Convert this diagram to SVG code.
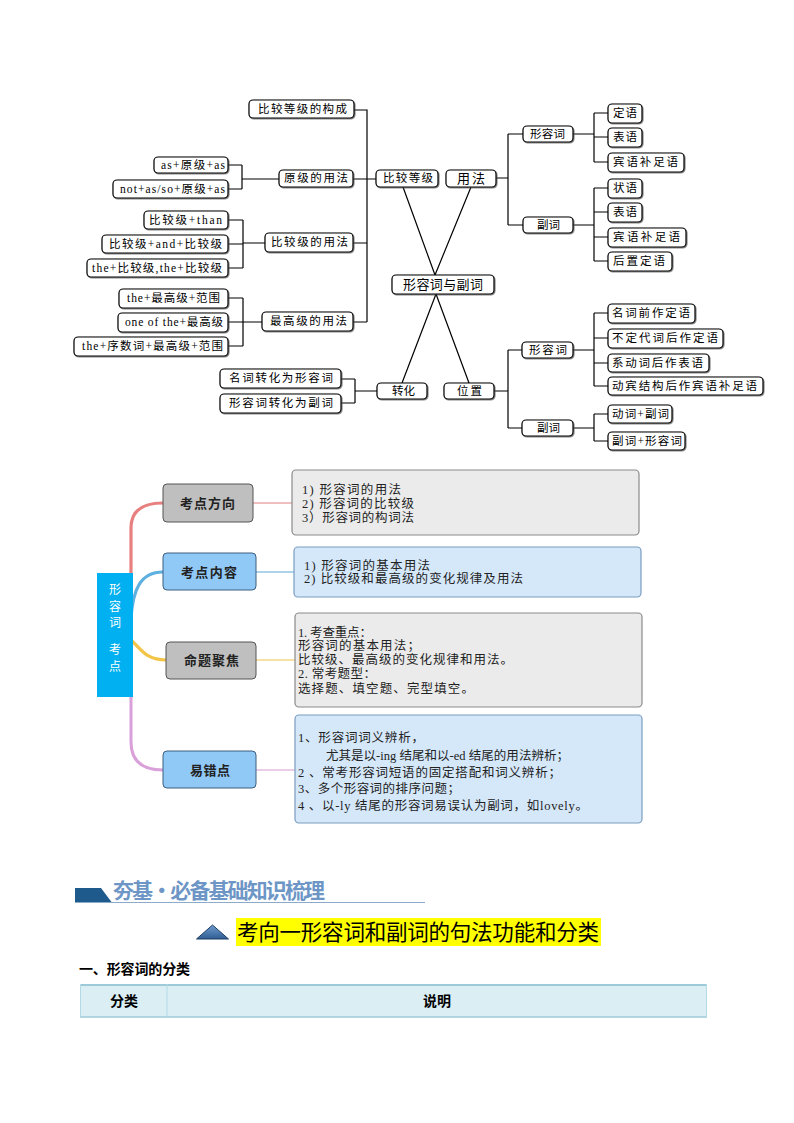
<svg xmlns="http://www.w3.org/2000/svg" width="794" height="1123" viewBox="0 0 794 1123">
<defs>
<style>
.bx{fill:#fff;stroke:#000;stroke-width:1.2;filter:url(#sh)}
.t{font-family:"Liberation Serif","Noto Sans CJK SC",serif;font-size:11.5px;fill:#000}
.tc{font-family:"Noto Sans CJK SC","Liberation Sans",sans-serif;font-size:13px;fill:#000}
.ln{stroke:#000;stroke-width:1.2;fill:none}
.g1{fill:#BFBFBF;stroke:#555;stroke-width:1}
.b1{fill:#90C8F6;stroke:#3D5F80;stroke-width:1}
.d1{fill:#EBEBEB;stroke:#8A8A8A;stroke-width:1.2}
.d2{fill:#D5E8FA;stroke:#7A9CC0;stroke-width:1.2}
.bl{font-family:"Noto Sans CJK SC","Liberation Sans",sans-serif;font-size:13px;font-weight:bold;fill:#222}
.dt{font-family:"Liberation Serif","Noto Sans CJK SC",serif;font-size:12.5px;fill:#222}
.cv{fill:none;stroke-linecap:round}
</style>
<filter id="sh" x="-10%" y="-20%" width="130%" height="160%">
<feDropShadow dx="0.8" dy="0.8" stdDeviation="0.3" flood-color="#444" flood-opacity="0.8"/>
</filter>
<linearGradient id="tri" x1="0" y1="0" x2="0" y2="1">
<stop offset="0" stop-color="#6F9BD0"/>
<stop offset="1" stop-color="#2F5C92"/>
</linearGradient>
</defs>

<g id="connectors">
<path class="ln" d="M354,110H367V322M353,179H376M353,243H367M353,322H367"/>
<path class="ln" d="M228,165H242M228,189H242M242,165V189M242,179H279"/>
<path class="ln" d="M228,220H243M228,244H243M228,268H243M243,220V268M243,243H265"/>
<path class="ln" d="M228,298H243M228,322H243M228,346H243M243,298V346M243,322H262"/>
<path class="ln" d="M341,379H355M341,403H355M355,379V403M355,391H377"/>
<path class="ln" d="M496,178H508M508,134V225M508,134H523M508,225H523"/>
<path class="ln" d="M573,134H594M594,113V162M594,113H608M594,137H608M594,162H608"/>
<path class="ln" d="M573,225H594M594,188V261M594,188H608M594,212H608M594,237H608M594,261H608"/>
<path class="ln" d="M403,187L435,275L471,187M436,294L402,383M436,294L469,383"/>
<path class="ln" d="M494,391H508M508,350V428M508,350H522M508,428H522"/>
<path class="ln" d="M573,350H594M594,313V386M594,313H608M594,338H608M594,363H608M594,386H608"/>
<path class="ln" d="M573,428H594M594,414V441M594,414H608M594,441H608"/>
<path class="cv" stroke="#E88080" stroke-width="3.2" d="M131,585V528Q131,503 163,503"/>
<path class="cv" stroke="#5DB0E0" stroke-width="3.2" d="M131,618C133,590 140,572 163,572"/>
<path class="cv" stroke="#F2C447" stroke-width="3.2" d="M131,640C142,650 146,660 166,660"/>
<path class="cv" stroke="#D9A0D9" stroke-width="3" d="M131,682V742Q131,770 163,770"/>
<path d="M253,503H292" stroke="#E08080" stroke-width="1"/>
<path d="M256,572H294" stroke="#5BA8D6" stroke-width="1"/>
<path d="M256,660H295" stroke="#EFC24A" stroke-width="1"/>
<path d="M256,770H295" stroke="#D59AD0" stroke-width="1"/>
</g>

<g id="n-gouc"><rect class="bx" x="249" y="100" width="105" height="18" rx="4"/><text class="t" x="258" y="113" textLength="89" lengthAdjust="spacing">比较等级的构成</text></g>
<g id="n-as"><rect class="bx" x="154" y="157" width="74" height="16" rx="4"/><text class="t" x="161" y="169" textLength="64" lengthAdjust="spacing">as+原级+as</text></g>
<g id="n-notas"><rect class="bx" x="113" y="180" width="115" height="18" rx="4"/><text class="t" x="120" y="193" textLength="105" lengthAdjust="spacing">not+as/so+原级+as</text></g>
<g id="n-yuanji"><rect class="bx" x="279" y="170" width="74" height="17" rx="4"/><text class="t" x="284" y="182" textLength="64" lengthAdjust="spacing">原级的用法</text></g>
<g id="n-bjdj"><rect class="bx" x="376" y="170" width="62" height="17" rx="4"/><text class="t" x="383" y="182" textLength="50" lengthAdjust="spacing">比较等级</text></g>
<g id="n-yongfa"><rect class="bx" x="446" y="170" width="50" height="17" rx="4"/><text class="tc" x="457" y="183" textLength="28" lengthAdjust="spacing">用法</text></g>
<g id="n-than"><rect class="bx" x="144" y="211" width="84" height="18" rx="4"/><text class="t" x="149" y="224" textLength="73" lengthAdjust="spacing">比较级+than</text></g>
<g id="n-and"><rect class="bx" x="102" y="235" width="126" height="18" rx="4"/><text class="t" x="109" y="248" textLength="113" lengthAdjust="spacing">比较级+and+比较级</text></g>
<g id="n-thethe"><rect class="bx" x="87" y="259" width="141" height="18" rx="4"/><text class="t" x="92" y="272" textLength="130" lengthAdjust="spacing">the+比较级,the+比较级</text></g>
<g id="n-bjj"><rect class="bx" x="265" y="233" width="88" height="19" rx="4"/><text class="t" x="271" y="246" textLength="77" lengthAdjust="spacing">比较级的用法</text></g>
<g id="n-zg1"><rect class="bx" x="119" y="289" width="109" height="19" rx="4"/><text class="t" x="127" y="302" textLength="93" lengthAdjust="spacing">the+最高级+范围</text></g>
<g id="n-zg2"><rect class="bx" x="118" y="313" width="110" height="19" rx="4"/><text class="t" x="125" y="326" textLength="98" lengthAdjust="spacing">one of the+最高级</text></g>
<g id="n-zg3"><rect class="bx" x="74" y="337" width="154" height="19" rx="4"/><text class="t" x="82" y="350" textLength="141" lengthAdjust="spacing">the+序数词+最高级+范围</text></g>
<g id="n-zgj"><rect class="bx" x="262" y="312" width="91" height="19" rx="4"/><text class="t" x="270" y="325" textLength="77" lengthAdjust="spacing">最高级的用法</text></g>
<g id="n-mc"><rect class="bx" x="220" y="369" width="121" height="19" rx="4"/><text class="t" x="229" y="382" textLength="104" lengthAdjust="spacing">名词转化为形容词</text></g>
<g id="n-xr"><rect class="bx" x="220" y="394" width="121" height="19" rx="4"/><text class="t" x="229" y="407" textLength="104" lengthAdjust="spacing">形容词转化为副词</text></g>
<g id="n-zhuanhua"><rect class="bx" x="377" y="383" width="50" height="16" rx="4"/><text class="t" x="392" y="395" textLength="23" lengthAdjust="spacing">转化</text></g>
<g id="n-weizhi"><rect class="bx" x="444" y="383" width="50" height="16" rx="4"/><text class="t" x="457" y="395" textLength="25" lengthAdjust="spacing">位置</text></g>
<g id="n-root"><rect class="bx" x="392" y="275" width="102" height="19" rx="4"/><text class="tc" x="403" y="289" textLength="80" lengthAdjust="spacing">形容词与副词</text></g>
<g id="n-xrc1"><rect class="bx" x="523" y="126" width="50" height="16" rx="4"/><text class="t" x="530" y="138" textLength="35" lengthAdjust="spacing">形容词</text></g>
<g id="n-fc1"><rect class="bx" x="523" y="217" width="50" height="16" rx="4"/><text class="t" x="537" y="229" textLength="23" lengthAdjust="spacing">副词</text></g>
<g id="n-dy"><rect class="bx" x="608" y="104" width="34" height="19" rx="4"/><text class="t" x="613" y="117" textLength="24" lengthAdjust="spacing">定语</text></g>
<g id="n-by1"><rect class="bx" x="608" y="128" width="34" height="19" rx="4"/><text class="t" x="613" y="141" textLength="24" lengthAdjust="spacing">表语</text></g>
<g id="n-bz1"><rect class="bx" x="608" y="153" width="76" height="19" rx="4"/><text class="t" x="613" y="166" textLength="65" lengthAdjust="spacing">宾语补足语</text></g>
<g id="n-zy"><rect class="bx" x="608" y="179" width="34" height="19" rx="4"/><text class="t" x="613" y="192" textLength="24" lengthAdjust="spacing">状语</text></g>
<g id="n-by2"><rect class="bx" x="608" y="203" width="34" height="19" rx="4"/><text class="t" x="613" y="216" textLength="24" lengthAdjust="spacing">表语</text></g>
<g id="n-bz2"><rect class="bx" x="608" y="228" width="78" height="19" rx="4"/><text class="t" x="613" y="241" textLength="67" lengthAdjust="spacing">宾语补足语</text></g>
<g id="n-hz"><rect class="bx" x="608" y="252" width="64" height="19" rx="4"/><text class="t" x="613" y="265" textLength="52" lengthAdjust="spacing">后置定语</text></g>
<g id="n-xrc2"><rect class="bx" x="522" y="342" width="51" height="16" rx="4"/><text class="t" x="529" y="354" textLength="38" lengthAdjust="spacing">形容词</text></g>
<g id="n-fc2"><rect class="bx" x="522" y="420" width="51" height="16" rx="4"/><text class="t" x="537" y="432" textLength="23" lengthAdjust="spacing">副词</text></g>
<g id="n-p1"><rect class="bx" x="608" y="304" width="87" height="19" rx="4"/><text class="t" x="612" y="317" textLength="78" lengthAdjust="spacing">名词前作定语</text></g>
<g id="n-p2"><rect class="bx" x="608" y="329" width="115" height="19" rx="4"/><text class="t" x="612" y="342" textLength="106" lengthAdjust="spacing">不定代词后作定语</text></g>
<g id="n-p3"><rect class="bx" x="608" y="354" width="101" height="18" rx="4"/><text class="t" x="612" y="367" textLength="91" lengthAdjust="spacing">系动词后作表语</text></g>
<g id="n-p4"><rect class="bx" x="608" y="377" width="155" height="18" rx="4"/><text class="t" x="612" y="390" textLength="145" lengthAdjust="spacing">动宾结构后作宾语补足语</text></g>
<g id="n-p5"><rect class="bx" x="608" y="405" width="64" height="18" rx="4"/><text class="t" x="612" y="418" textLength="57" lengthAdjust="spacing">动词+副词</text></g>
<g id="n-p6"><rect class="bx" x="608" y="432" width="77" height="18" rx="4"/><text class="t" x="612" y="445" textLength="70" lengthAdjust="spacing">副词+形容词</text></g>

<g id="m-center">
<rect x="97" y="573" width="36" height="124" fill="#00B0F0"/>
<g font-family="Noto Sans CJK SC,sans-serif" font-size="12" fill="#fff" text-anchor="middle">
<text x="115" y="594">形</text><text x="115" y="611">容</text><text x="115" y="627">词</text>
<text x="115" y="654">考</text><text x="115" y="671">点</text>
</g>
</g>
<g id="m-fx"><rect class="g1" x="163" y="484" width="90" height="38" rx="4"/><text class="bl" x="180" y="508" textLength="55" lengthAdjust="spacing">考点方向</text></g>
<g id="m-nr"><rect class="b1" x="163" y="553" width="93" height="37" rx="4"/><text class="bl" x="181" y="577" textLength="56" lengthAdjust="spacing">考点内容</text></g>
<g id="m-jj"><rect class="g1" x="166" y="642" width="90" height="37" rx="4"/><text class="bl" x="184" y="665" textLength="55" lengthAdjust="spacing">命题聚焦</text></g>
<g id="m-yc"><rect class="b1" x="163" y="751" width="93" height="37" rx="4"/><text class="bl" x="190" y="775" textLength="40" lengthAdjust="spacing">易错点</text></g>

<g id="m-d1"><rect class="d1" x="292" y="470" width="347" height="65" rx="4"/>
<text class="dt" x="302" y="494" textLength="99" lengthAdjust="spacing">1)  形容词的用法</text>
<text class="dt" x="302" y="508" textLength="112" lengthAdjust="spacing">2)  形容词的比较级</text>
<text class="dt" x="302" y="522" textLength="112" lengthAdjust="spacing">3）形容词的构词法</text></g>
<g id="m-d2"><rect class="d2" x="294" y="547" width="347" height="50" rx="4"/>
<text class="dt" x="304" y="570" textLength="126" lengthAdjust="spacing">1)  形容词的基本用法</text>
<text class="dt" x="304" y="583" textLength="219" lengthAdjust="spacing">2)  比较级和最高级的变化规律及用法</text></g>
<g id="m-d3"><rect class="d1" x="295" y="613" width="347" height="94" rx="4"/>
<text class="dt" x="298" y="637" textLength="74" lengthAdjust="spacing">1. 考查重点：</text>
<text class="dt" x="298" y="650" textLength="122" lengthAdjust="spacing">形容词的基本用法；</text>
<text class="dt" x="298" y="664" textLength="215" lengthAdjust="spacing">比较级、最高级的变化规律和用法。</text>
<text class="dt" x="298" y="678" textLength="78" lengthAdjust="spacing">2. 常考题型：</text>
<text class="dt" x="298" y="693" textLength="176" lengthAdjust="spacing">选择题、填空题、完型填空。</text></g>
<g id="m-d4"><rect class="d2" x="295" y="715" width="347" height="108" rx="4"/>
<text class="dt" x="298" y="742" textLength="126" lengthAdjust="spacing">1、形容词词义辨析，</text>
<text class="dt" x="326" y="760" textLength="243" lengthAdjust="spacing">尤其是以-ing 结尾和以-ed 结尾的用法辨析；</text>
<text class="dt" x="298" y="777" textLength="263" lengthAdjust="spacing">2 、常考形容词短语的固定搭配和词义辨析；</text>
<text class="dt" x="298" y="793" textLength="162" lengthAdjust="spacing">3、多个形容词的排序问题；</text>
<text class="dt" x="298" y="810" textLength="290" lengthAdjust="spacing">4 、以-ly 结尾的形容词易误认为副词，如lovely。</text></g>

<g id="section-title">
<path d="M75,888H101L111.5,902H75Z" fill="#1F5A8C"/>
<line x1="75" y1="902.5" x2="425" y2="902.5" stroke="#8EAACB" stroke-width="1.2"/>
<text x="113" y="898" font-family="Noto Sans CJK SC,sans-serif" font-size="21" font-weight="bold" fill="#6D96C6" textLength="212" lengthAdjust="spacing">夯基·必备基础知识梳理</text>
</g>
<g id="heading">
<polygon points="196.5,939 228.5,939 212.5,925" fill="url(#tri)" stroke="#1E3F66" stroke-width="1"/>
<rect x="236" y="918" width="365" height="28" fill="#FFFF00"/>
<text x="237" y="940" font-family="Noto Sans CJK SC,sans-serif" font-size="21.5" fill="#000" textLength="362" lengthAdjust="spacing">考向一形容词和副词的句法功能和分类</text>
</g>
<text x="79" y="974" font-family="Noto Sans CJK SC,sans-serif" font-size="14" font-weight="bold" fill="#000" textLength="111" lengthAdjust="spacing">一、形容词的分类</text>
<g id="table">
<rect x="80" y="984" width="627" height="33" fill="#DAEEF3"/>
<line x1="80" y1="985" x2="707" y2="985" stroke="#9CCAD9" stroke-width="2"/>
<line x1="80" y1="1017" x2="707" y2="1017" stroke="#9CCAD9" stroke-width="1.5"/>
<line x1="80.5" y1="984" x2="80.5" y2="1017" stroke="#B5DAE5" stroke-width="1"/>
<line x1="706.5" y1="984" x2="706.5" y2="1017" stroke="#B5DAE5" stroke-width="1"/>
<line x1="167" y1="984" x2="167" y2="1017" stroke="#B5DAE5" stroke-width="1"/>
<g font-family="Noto Sans CJK SC,sans-serif" font-size="14" font-weight="bold" fill="#000" text-anchor="middle">
<text x="124" y="1006">分类</text>
<text x="437" y="1006">说明</text>
</g>
</g>
</svg>
